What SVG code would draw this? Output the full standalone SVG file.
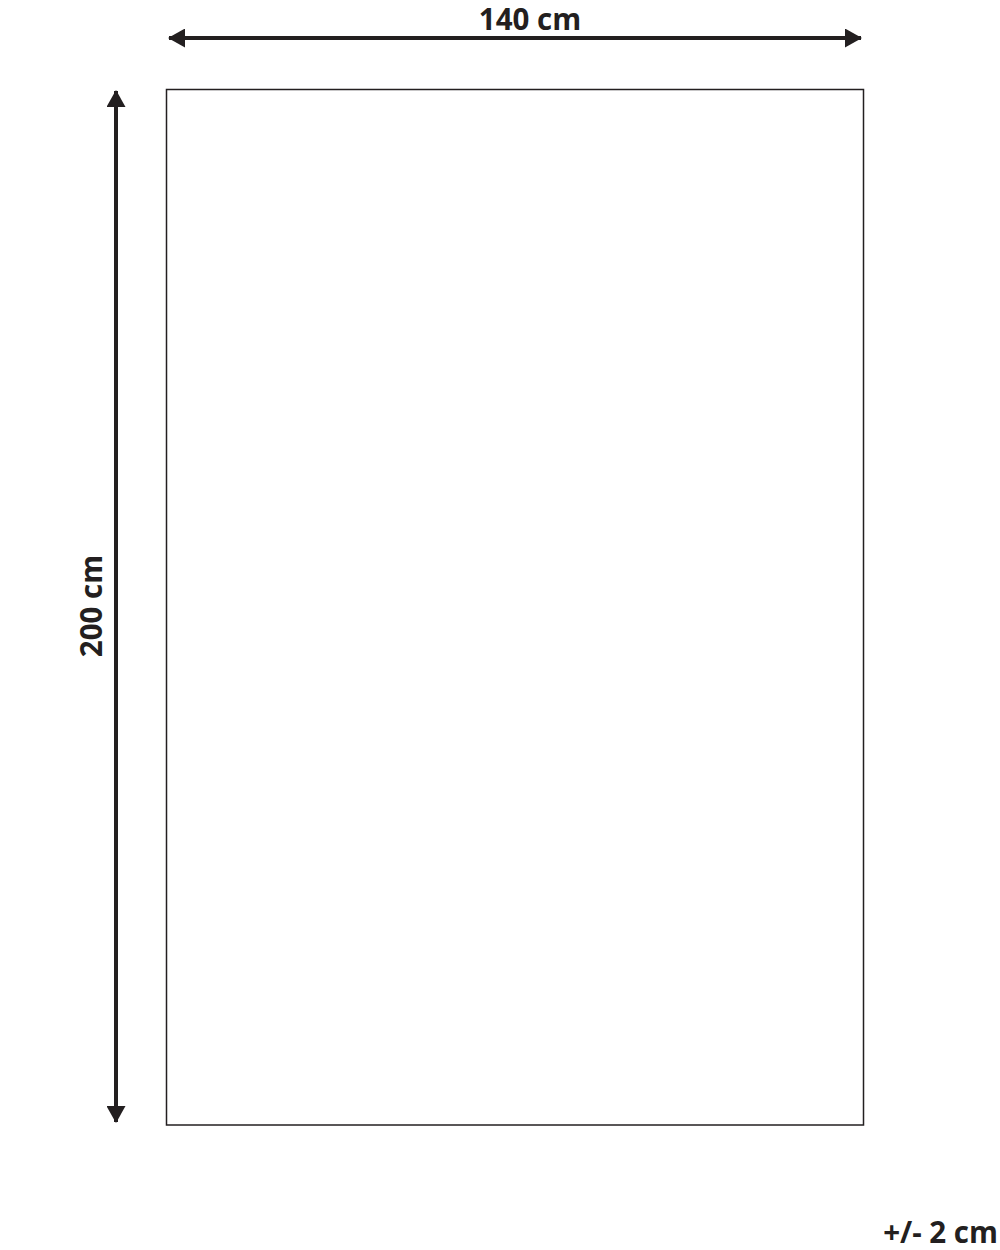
<svg xmlns="http://www.w3.org/2000/svg" width="1000" height="1250" viewBox="0 0 1000 1250">
<style>
.dim{stroke:#231f20;stroke-width:4;fill:none}
.lbl{font-family:"Open Sans","Liberation Sans",sans-serif;font-weight:bold;font-size:29.5px;fill:#231f20}
</style>
<defs>
<marker id="ah" viewBox="0 0 17 19" refX="16" refY="9.5" markerWidth="17" markerHeight="19" markerUnits="userSpaceOnUse" orient="auto-start-reverse">
<path d="M0,0 L17,9.5 L0,19 Z" fill="#231f20"/>
</marker>
</defs>
<rect width="1000" height="1250" fill="#fff"/>
<g id="rug">
<rect x="166.5" y="89.5" width="697" height="1035.5" fill="#fff" stroke="#231f20" stroke-width="1.5"/>
</g>
<g id="connectors">
<line class="dim" x1="169" y1="38" x2="861" y2="38" marker-start="url(#ah)" marker-end="url(#ah)"/>
<line class="dim" x1="116" y1="91" x2="116" y2="1122" marker-start="url(#ah)" marker-end="url(#ah)"/>
</g>
<g id="width-label"><text class="lbl" x="530" y="29.5" text-anchor="middle">140 cm</text></g>
<g id="height-label"><text class="lbl" transform="translate(102,606) rotate(-90)" text-anchor="middle">200 cm</text></g>
<g id="tolerance"><text class="lbl" x="998" y="1243" text-anchor="end">+/- 2 cm</text></g>
</svg>
